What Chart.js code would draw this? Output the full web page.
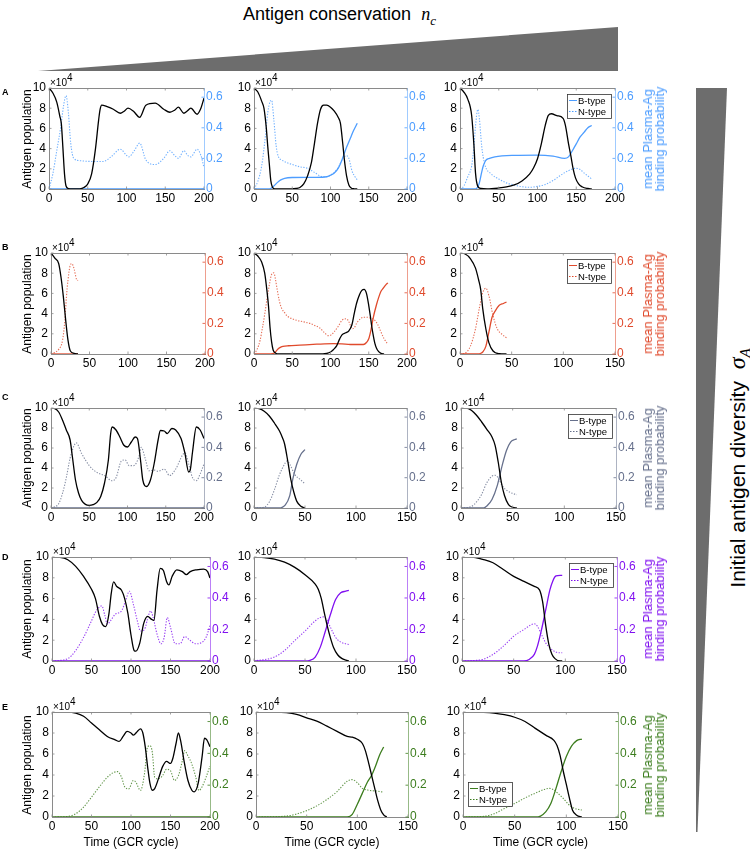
<!DOCTYPE html>
<html><head><meta charset="utf-8">
<script src="https://cdn.jsdelivr.net/npm/chart.js@4/dist/chart.umd.min.js"></script>
<style>
body{margin:0;background:#fff;}
#wrap{position:relative;width:750px;height:850px;overflow:hidden;font-family:"Liberation Sans",Arial,sans-serif;background:#fff;}
canvas{position:absolute;}
.t{position:absolute;white-space:nowrap;color:#000;line-height:1;}
.rot{transform:translate(-50%,-50%) rotate(-90deg);text-align:center;}
.m{font-family:"Liberation Serif","DejaVu Serif",serif;font-style:italic;}
</style></head><body><div id="wrap">
<svg width="750" height="850" style="position:absolute;left:0;top:0">
  <polygon points="38,71 618,27 618,71" fill="#6d6d6d"/>
  <polygon points="696,88 727,88 697.5,832 696,832" fill="#6d6d6d"/>
</svg>
</div>
<script>
// ---------- tick labels ----------
const popTicks = [0, 2, 4, 6, 8, 10];
const probTicks = [0, 0.2, 0.4, 0.6];
const xTicks200 = [0, 50, 100, 150, 200];
const xTicks150 = [0, 50, 100, 150];
const rowLetters = ['A', 'B', 'C', 'D', 'E'];
const seriesNames = ['B-type', 'N-type'];

// ---------- data: [time, value]; population in units of 10^4 ----------
// Row A
const popA1 = [[0,10],[5,9.5],[10,8.6],[14,7.2],[16,6.4],[18,4.0],[20,1.5],[22,0.3],[25,0.05],[30,0],[40,0.02],[45,0.15],[50,0.5],[55,1.5],[60,4.0],[64,6.8],[66,7.9],[68,8.3],[75,8.15],[83,7.9],[92,7.5],[97,7.7],[102,8.0],[109,7.7],[117,7.1],[125,8.3],[137,8.5],[148,7.9],[156,7.6],[162,7.8],[167,8.1],[174,7.5],[178,7.7],[183,8.0],[191,7.4],[196,8.0],[200,9.0]];
const bA1 = [[0,0],[200,0]];
const nA1 = [[0,0],[5,0.1],[10,0.25],[15,0.4],[19,0.55],[22,0.61],[25,0.5],[28,0.3],[32,0.2],[40,0.185],[55,0.18],[70,0.18],[80,0.21],[92,0.26],[100,0.22],[103,0.21],[110,0.25],[117,0.30],[125,0.19],[137,0.16],[148,0.2],[156,0.25],[162,0.22],[167,0.2],[174,0.25],[179,0.22],[183,0.21],[191,0.26],[196,0.22],[200,0.14]];
const popA2 = [[0,10],[5,9.6],[10,8.7],[13,8.0],[16,6.1],[18,4.2],[20,2.5],[22,0.8],[24,0.2],[27,0.02],[40,0],[55,0.05],[60,0.15],[65,0.5],[70,1.3],[75,2.6],[79,4.5],[83,6.5],[87,7.9],[91,8.3],[95,8.3],[100,8.1],[105,7.7],[110,7.1],[113,6.5],[116,4.5],[118,3.0],[121,1.3],[124,0.4],[127,0.1],[131,0.02],[135,0]];
const bA2 = [[0,0],[20,0],[25,0.015],[30,0.04],[35,0.06],[40,0.07],[50,0.075],[80,0.076],[95,0.08],[100,0.09],[105,0.105],[110,0.135],[115,0.19],[120,0.26],[125,0.32],[130,0.38],[135,0.43]];
const nA2 = [[0,0],[5,0.05],[10,0.15],[15,0.35],[18,0.5],[21,0.57],[23,0.58],[26,0.45],[29,0.28],[32,0.21],[36,0.19],[50,0.16],[60,0.145],[70,0.135],[80,0.105],[90,0.08],[100,0.09],[110,0.14],[116,0.2],[121,0.218],[124,0.2],[128,0.12],[132,0.08],[135,0.06]];
const popA3 = [[0,10],[5,9.6],[10,8.9],[15,7.3],[18,4.3],[20,1.6],[23,0.26],[27,0.05],[35,0.02],[50,0.1],[60,0.2],[70,0.4],[80,0.8],[90,1.5],[95,2.1],[100,3.0],[105,4.5],[110,6.3],[114,7.3],[118,7.45],[125,7.26],[133,7.0],[136,6.3],[140,4.5],[143,3.3],[146,2.0],[149,1.1],[153,0.5],[158,0.2],[165,0.05],[170,0]];
const bA3 = [[0,0],[20,0],[23,0.015],[25,0.04],[28,0.11],[30,0.15],[33,0.185],[38,0.2],[45,0.21],[70,0.22],[100,0.222],[120,0.215],[135,0.2],[140,0.21],[145,0.25],[150,0.295],[155,0.34],[160,0.37],[165,0.4],[170,0.415]];
const nA3 = [[0,0],[5,0.02],[10,0.08],[15,0.15],[18,0.28],[20,0.41],[23,0.52],[25,0.46],[28,0.28],[32,0.16],[40,0.1],[50,0.065],[60,0.04],[70,0.026],[80,0.015],[90,0.011],[100,0.017],[110,0.03],[120,0.055],[130,0.09],[140,0.12],[150,0.135],[155,0.128],[160,0.105],[165,0.085],[170,0.065]];
// Row B
const popB1 = [[0,10],[5,9.5],[10,8.95],[13,7.6],[16,5.7],[19,3.4],[22,1.4],[25,0.33],[30,0.07],[35,0]];
const bB1 = [[0,0],[35,0]];
const nB1 = [[0,0],[5,0.01],[10,0.03],[15,0.09],[18,0.22],[20,0.37],[22,0.48],[25,0.58],[27,0.59],[30,0.556],[33,0.49],[35,0.48]];
const popB2 = [[0,10],[5,9.7],[10,9.1],[14,8.0],[17,6.2],[19,4.7],[21,2.6],[23,1.2],[25,0.4],[28,0.1],[32,0],[90,0],[95,0.05],[100,0.2],[104,0.45],[108,0.8],[112,1.5],[115,1.9],[120,2.1],[124,2.3],[128,2.9],[131,4.0],[134,5.0],[138,5.9],[141,6.3],[144,6.4],[147,6.0],[150,4.8],[152,3.8],[154,2.7],[156,1.8],[158,1.05],[160,0.6],[163,0.23],[166,0.06],[170,0]];
const bB2 = [[0,0],[20,0],[24,0.002],[27,0.008],[30,0.025],[32,0.036],[35,0.045],[38,0.05],[45,0.054],[60,0.058],[82,0.064],[104,0.068],[115,0.066],[126,0.062],[143,0.062],[147,0.075],[150,0.1],[153,0.16],[156,0.24],[160,0.32],[163,0.37],[166,0.41],[169,0.43],[172,0.45],[175,0.465]];
const nB2 = [[0,0],[4,0.03],[8,0.09],[11,0.17],[14,0.26],[17,0.36],[20,0.45],[23,0.52],[26,0.53],[28,0.49],[30,0.43],[33,0.35],[36,0.30],[40,0.27],[43,0.25],[50,0.23],[56,0.22],[65,0.21],[73,0.2],[80,0.185],[86,0.17],[92,0.14],[97,0.12],[101,0.125],[104,0.14],[110,0.18],[115,0.22],[121,0.23],[125,0.2],[128,0.165],[131,0.17],[134,0.2],[138,0.225],[143,0.24],[148,0.24],[152,0.235],[158,0.22],[162,0.19],[165,0.155],[170,0.1],[174,0.07]];
const popB3 = [[0,10],[5,9.9],[10,9.45],[15,8.5],[18,7.35],[20,6.4],[22,4.5],[25,2.5],[28,1.1],[32,0.3],[38,0.03],[45,0]];
const bB3 = [[0,0],[18,0],[20,0.004],[22,0.013],[25,0.05],[28,0.144],[31,0.24],[34,0.28],[38,0.318],[42,0.33],[45,0.34]];
const nB3 = [[0,0],[5,0.006],[10,0.05],[15,0.165],[19,0.31],[22,0.4],[25,0.43],[28,0.38],[32,0.25],[36,0.165],[41,0.127],[45,0.106]];
// Row C
const popC1 = [[0,10],[5,9.93],[10,9.6],[15,8.8],[20,7.8],[25,6.8],[28,5.1],[32,2.8],[36,1.5],[40,0.76],[45,0.36],[50,0.26],[55,0.33],[60,0.56],[65,1.16],[70,2.5],[75,4.8],[78,7.45],[80,8.1],[85,7.8],[90,7.1],[95,6.3],[100,6.1],[105,6.6],[110,7.1],[113,6.95],[117,4.8],[120,2.8],[125,2.15],[130,2.8],[135,4.5],[140,6.8],[143,7.75],[148,7.7],[152,7.45],[158,7.95],[163,7.8],[170,6.95],[175,5.5],[180,3.6],[182,3.8],[185,5.6],[190,8.1],[195,7.8],[200,6.95]];
const bC1 = [[0,0],[200,0]];
const nC1 = [[0,0],[10,0.028],[15,0.096],[20,0.2],[25,0.33],[30,0.41],[33,0.43],[40,0.36],[50,0.28],[60,0.235],[70,0.214],[80,0.18],[85,0.2],[92,0.31],[97,0.317],[102,0.28],[108,0.28],[115,0.34],[118,0.4],[123,0.33],[128,0.246],[135,0.25],[140,0.242],[148,0.257],[155,0.214],[163,0.257],[172,0.35],[175,0.364],[180,0.29],[185,0.2],[190,0.18],[195,0.225],[200,0.29]];
const popC2 = [[0,10],[5,9.93],[10,9.67],[15,9.2],[20,8.5],[25,7.7],[28,7.0],[30,6.4],[33,4.75],[36,2.9],[39,1.6],[42,0.66],[46,0.17],[50,0]];
const bC2 = [[0,0],[25,0],[28,0.006],[30,0.015],[35,0.08],[38,0.19],[42,0.29],[46,0.355],[50,0.385]];
const nC2 = [[0,0],[10,0.006],[15,0.04],[20,0.12],[25,0.22],[30,0.29],[32,0.31],[35,0.29],[40,0.22],[45,0.19],[50,0.16]];
const popC3 = [[0,10],[5,10],[10,9.77],[15,9.27],[20,8.6],[25,7.87],[30,7.1],[33,6.27],[36,4.6],[39,2.6],[42,1.27],[46,0.33],[50,0.07],[54,0]];
const bC3 = [[0,0],[22,0],[25,0.013],[30,0.056],[35,0.146],[40,0.285],[44,0.38],[48,0.435],[52,0.452],[54,0.456]];
const nC3 = [[0,0],[10,0.01],[15,0.04],[20,0.09],[25,0.167],[30,0.21],[33,0.216],[36,0.2],[40,0.146],[45,0.113],[50,0.096],[54,0.088]];
// Row D
const popD1 = [[0,10],[10,9.97],[20,9.74],[30,9.1],[40,8.13],[50,6.9],[55,6.0],[60,4.3],[64,3.5],[68,3.3],[72,4.5],[75,6.5],[78,7.6],[82,7.16],[88,6.8],[92,6.0],[96,4.6],[100,2.5],[104,1.0],[106,0.94],[111,1.7],[116,3.6],[121,4.3],[126,4.0],[129,3.9],[133,6.84],[137,8.9],[141,8.7],[145,7.65],[148,7.32],[152,8.13],[158,8.77],[165,8.6],[170,8.3],[175,8.6],[183,8.77],[192,8.84],[197,8.6],[200,7.97]];
const bD1 = [[0,0],[200,0]];
const nD1 = [[0,0],[20,0.015],[30,0.067],[40,0.15],[50,0.255],[55,0.31],[60,0.343],[63,0.35],[67,0.287],[70,0.234],[74,0.255],[80,0.297],[88,0.318],[93,0.38],[98,0.443],[103,0.36],[108,0.255],[112,0.19],[117,0.2],[122,0.287],[125,0.318],[128,0.276],[133,0.17],[138,0.109],[142,0.15],[146,0.276],[150,0.213],[156,0.109],[162,0.109],[168,0.155],[175,0.13],[182,0.109],[190,0.119],[195,0.15],[200,0.224]];
const popD2 = [[0,10],[10,9.95],[20,9.8],[30,9.5],[40,9.0],[50,8.3],[60,7.4],[63,6.9],[66,6.0],[69,4.6],[72,3.3],[75,2.2],[78,1.3],[82,0.6],[86,0.25],[90,0.08],[93,0]];
const bD2 = [[0,0],[50,0],[55,0.004],[60,0.025],[65,0.088],[70,0.19],[75,0.297],[80,0.39],[85,0.433],[90,0.443],[93,0.448]];
const nD2 = [[0,0],[20,0.025],[30,0.067],[40,0.13],[50,0.19],[60,0.255],[65,0.276],[68,0.28],[71,0.265],[75,0.213],[80,0.15],[85,0.12],[90,0.109],[93,0.105]];
const popD3 = [[0,10],[10,10],[20,9.77],[30,9.45],[40,8.8],[50,8.14],[60,7.65],[70,7.17],[75,6.84],[78,5.7],[81,3.42],[84,1.63],[87,0.65],[90,0.23],[95,0],[97,0]];
const bD3 = [[0,0],[60,0],[65,0.01],[70,0.042],[73,0.094],[77,0.2],[81,0.324],[85,0.45],[88,0.51],[91,0.54],[95,0.544],[97,0.544]];
const nD3 = [[0,0],[20,0.01],[30,0.042],[40,0.094],[50,0.157],[60,0.2],[67,0.23],[70,0.236],[73,0.22],[77,0.167],[81,0.115],[85,0.084],[90,0.059],[95,0.052],[97,0.052]];
// Row E
const popE1 = [[0,10],[20,10],[30,9.9],[40,9.6],[50,8.95],[60,8.3],[70,7.67],[80,7.35],[85,7.2],[90,7.67],[95,8.15],[100,8.0],[103,7.8],[108,8.15],[112,8.4],[115,8.0],[118,6.7],[121,4.8],[124,3.2],[127,2.55],[130,2.7],[135,3.7],[140,4.8],[145,5.3],[150,5.1],[153,5.6],[157,7.0],[160,8.0],[163,7.2],[167,5.4],[172,3.5],[177,2.55],[180,2.4],[185,3.2],[190,5.75],[193,7.5],[196,7.35],[200,6.7]];
const bE1 = [[0,0],[200,0]];
const nE1 = [[0,0],[20,0.004],[30,0.02],[40,0.0625],[50,0.125],[60,0.19],[70,0.25],[78,0.28],[83,0.285],[88,0.25],[92,0.19],[97,0.177],[103,0.23],[106,0.22],[112,0.167],[117,0.27],[121,0.44],[124,0.448],[127,0.406],[130,0.25],[135,0.24],[140,0.26],[145,0.3],[150,0.29],[155,0.23],[160,0.26],[165,0.354],[168,0.417],[172,0.385],[177,0.333],[182,0.25],[186,0.167],[190,0.19],[195,0.25],[200,0.32]];
const popE2 = [[0,10],[20,10],[30,9.94],[40,9.77],[50,9.45],[60,9.13],[70,8.65],[80,8.16],[90,7.68],[95,7.6],[100,7.4],[105,7.0],[108,6.3],[111,5.2],[114,4.0],[117,2.8],[120,1.6],[123,0.7],[126,0.2],[129,0]];
const bE2 = [[0,0],[90,0],[95,0.017],[100,0.08],[105,0.15],[110,0.22],[114,0.26],[118,0.32],[122,0.39],[126,0.44]];
const nE2 = [[0,0],[30,0.006],[50,0.04],[60,0.07],[70,0.11],[80,0.16],[90,0.225],[95,0.235],[100,0.215],[105,0.18],[110,0.17],[115,0.165],[120,0.163],[126,0.155]];
const popE3 = [[0,10],[20,9.97],[30,9.9],[40,9.74],[50,9.5],[60,9.1],[70,8.44],[80,7.8],[88,7.3],[91,6.8],[94,5.84],[97,4.38],[100,3.1],[103,1.8],[106,0.65],[110,0.16],[115,0]];
const bE3 = [[0,0],[70,0],[75,0.006],[80,0.032],[85,0.085],[90,0.18],[95,0.286],[100,0.38],[105,0.445],[110,0.48],[115,0.49]];
const nE3 = [[0,0],[20,0.004],[30,0.02],[40,0.053],[50,0.085],[60,0.12],[70,0.15],[80,0.176],[84,0.18],[88,0.17],[92,0.148],[97,0.117],[102,0.08],[107,0.057],[112,0.047],[115,0.044]];

// ---------- styles / layout ----------
const rowColors = ['#4d9dff', '#e04a2c', '#66708c', '#8010f0', '#3c7d1e'];
const rowY = [[88,189],[253,354],[408,508],[557,661],[712,817]];
const colX = [
  [[49,204],[254,407],[460,615]],
  [[51,205],[254,407],[460,615]],
  [[51,204],[254,407],[461,616]],
  [[52,210],[254,407],[462,617]],
  [[52,210],[256,408],[463,618]]
];
const xMaxes = [[200,200,200],[200,200,150],[200,150,150],[200,150,150],[200,150,150]];
const panels = [
  [[popA1,bA1,nA1],[popA2,bA2,nA2],[popA3,bA3,nA3]],
  [[popB1,bB1,nB1],[popB2,bB2,nB2],[popB3,bB3,nB3]],
  [[popC1,bC1,nC1],[popC2,bC2,nC2],[popC3,bC3,nC3]],
  [[popD1,bD1,nD1],[popD2,bD2,nD2],[popD3,bD3,nD3]],
  [[popE1,bE1,nE1],[popE2,bE2,nE2],[popE3,bE3,nE3]]
];

const FONT = '"Liberation Sans", Arial, sans-serif';
const wrap = document.getElementById('wrap');
function addText(html, css, cls) {
  const d = document.createElement('div');
  d.className = 't' + (cls ? ' ' + cls : '');
  d.innerHTML = html;
  Object.assign(d.style, css);
  wrap.appendChild(d);
  return d;
}

const framePlugin = {
  id: 'frame',
  afterDatasetsDraw(chart, args, opts) {
    const {ctx, chartArea: a} = chart;
    ctx.save();
    ctx.strokeStyle = '#8a8a8a';
    ctx.lineWidth = 1;
    ctx.beginPath();
    ctx.moveTo(a.left, Math.round(a.top) + 0.5);
    ctx.lineTo(a.right, Math.round(a.top) + 0.5);
    ctx.stroke();
    // inward tick marks (MATLAB style)
    ctx.lineWidth = 0.8;
    const xs = chart.scales.x, y = chart.scales.y, y1 = chart.scales.y1;
    ctx.strokeStyle = '#8a8a8a';
    xs.ticks.forEach(t => {
      const px = xs.getPixelForValue(t.value);
      ctx.beginPath(); ctx.moveTo(px, a.bottom); ctx.lineTo(px, a.bottom - 2.5);
      ctx.moveTo(px, a.top); ctx.lineTo(px, a.top + 2.5); ctx.stroke();
    });
    y.ticks.forEach(t => {
      const py = y.getPixelForValue(t.value);
      ctx.beginPath(); ctx.moveTo(a.left, py); ctx.lineTo(a.left + 2.5, py); ctx.stroke();
    });
    ctx.strokeStyle = opts.color;
    y1.ticks.forEach(t => {
      const py = y1.getPixelForValue(t.value);
      ctx.beginPath(); ctx.moveTo(a.right, py); ctx.lineTo(a.right - 2.5, py); ctx.stroke();
    });
    ctx.restore();
  },
  afterDraw(chart, args, opts) {
    if (!opts.legend) return;
    const {ctx, chartArea: a} = chart;
    const w = 44, h = 24;
    let x0, y0;
    if (opts.legend === 'tr') { x0 = a.right - 4 - w; y0 = a.top + 6; }
    else { x0 = a.left + 5; y0 = a.bottom - 11 - h; }
    ctx.save();
    ctx.fillStyle = '#fff';
    ctx.fillRect(x0, y0, w, h);
    ctx.strokeStyle = '#333';
    ctx.lineWidth = 0.8;
    ctx.strokeRect(Math.round(x0) + 0.5, Math.round(y0) + 0.5, w, h);
    ctx.font = '9.5px ' + FONT;
    ctx.textBaseline = 'middle';
    seriesNames.forEach((name, i) => {
      const yy = y0 + 6.5 + i * 11;
      ctx.strokeStyle = opts.color;
      ctx.lineWidth = 1;
      ctx.setLineDash(i === 0 ? [] : [1.5, 1.5]);
      ctx.beginPath(); ctx.moveTo(x0 + 2, yy); ctx.lineTo(x0 + 10, yy); ctx.stroke();
      ctx.setLineDash([]);
      ctx.fillStyle = '#000';
      ctx.fillText(name, x0 + 11, yy + 0.5);
    });
    ctx.restore();
  }
};

const toXY = arr => arr.map(p => ({x: p[0], y: p[1]}));
const fixTicks = vals => scale => { scale.ticks = vals.map(v => ({value: v})); };

const LW = 46, RW = 40, TH = 14, BH = 22;
for (let r = 0; r < 5; r++) {
  const color = rowColors[r];
  const [top, bottom] = rowY[r];
  for (let c = 0; c < 3; c++) {
    const [left, right] = colX[r][c];
    const [pop, bt, nt] = panels[r][c];
    const xmax = xMaxes[r][c];
    const cv = document.createElement('canvas');
    const W = LW + (right - left) + RW, H = TH + (bottom - top) + BH;
    cv.width = W; cv.height = H;
    cv.style.left = (left - LW) + 'px'; cv.style.top = (top - TH) + 'px';
    cv.style.width = W + 'px'; cv.style.height = H + 'px';
    wrap.appendChild(cv);
    new Chart(cv, {
      type: 'line',
      data: {
        datasets: [
          {label: 'Antigen population', data: toXY(pop), yAxisID: 'y', borderColor: '#000', borderWidth: 1.3, order: 0},
          {label: seriesNames[0], data: toXY(bt), yAxisID: 'y1', borderColor: color, borderWidth: 1.3, order: 1},
          {label: seriesNames[1], data: toXY(nt), yAxisID: 'y1', borderColor: color + 'cc', borderWidth: 1.1, borderDash: [1.3, 1.5], order: 2}
        ]
      },
      options: {
        responsive: false, animation: false, devicePixelRatio: 1,
        layout: {padding: {top: TH, bottom: 0, left: 0, right: 0}},
        elements: {point: {radius: 0}, line: {cubicInterpolationMode: 'monotone', fill: false}},
        plugins: {legend: {display: false}, tooltip: {enabled: false},
          frame: {color: color, legend: c === 2 ? (r === 4 ? 'bl' : 'tr') : null}},
        scales: {
          x: {type: 'linear', min: 0, max: xmax,
            afterBuildTicks: fixTicks(xmax === 200 ? xTicks200 : xTicks150),
            afterFit: s => { s.height = BH; },
            grid: {display: false, drawTicks: false},
            border: {display: true, color: '#8a8a8a'},
            ticks: {color: '#000', font: {family: FONT, size: 12}, padding: 2, maxRotation: 0, autoSkip: false}},
          y: {type: 'linear', position: 'left', min: 0, max: 10,
            afterBuildTicks: fixTicks(popTicks),
            afterFit: s => { s.width = LW; },
            grid: {display: false, drawTicks: false},
            border: {display: true, color: '#8a8a8a'},
            ticks: {color: '#000', font: {family: FONT, size: 12}, padding: 3}},
          y1: {type: 'linear', position: 'right', min: 0, max: 0.66,
            afterBuildTicks: fixTicks(probTicks),
            afterFit: s => { s.width = RW; },
            grid: {display: false, drawTicks: false},
            border: {display: true, color: color + '88'},
            ticks: {color: color, font: {family: FONT, size: 12}, padding: 2, callback: v => String(v)}}
        }
      },
      plugins: [framePlugin]
    });
    // exponent label
    addText('×10<sup style="font-size:10px;vertical-align:5px">4</sup>', {left: (left + 1) + 'px', top: (top - 15) + 'px', fontSize: '10px'});
    if (c === 0) {
      addText('Antigen population', {left: '27px', top: ((top + bottom) / 2) + 'px', fontSize: '12px'}, 'rot');
    }
    if (c === 2) {
      addText('mean Plasma-Ag<br>binding probability', {left: '654px', top: ((top + bottom) / 2) + 'px', fontSize: '13px', color: color, lineHeight: '12px'}, 'rot');
    }
    if (r === 4) {
      addText('Time (GCR cycle)', {left: ((left + right) / 2) + 'px', top: '842px', fontSize: '12px', transform: 'translate(-50%,-50%)'});
    }
  }
  addText(rowLetters[r], {left: '2px', top: [88, 243, 393, 553, 703][r] + 'px', fontSize: '9px', fontWeight: 'bold'});
}
addText('Antigen conservation&nbsp; <span class="m">n<sub style="font-size:13px">c</sub></span>', {left: '243px', top: '5px', fontSize: '18px'});
addText('Initial antigen diversity&nbsp; <span class="m" style="font-size:24px">σ<sub style="font-size:15px">A</sub></span>', {left: '739px', top: '468px', fontSize: '21px'}, 'rot');
</script>
</body></html>
